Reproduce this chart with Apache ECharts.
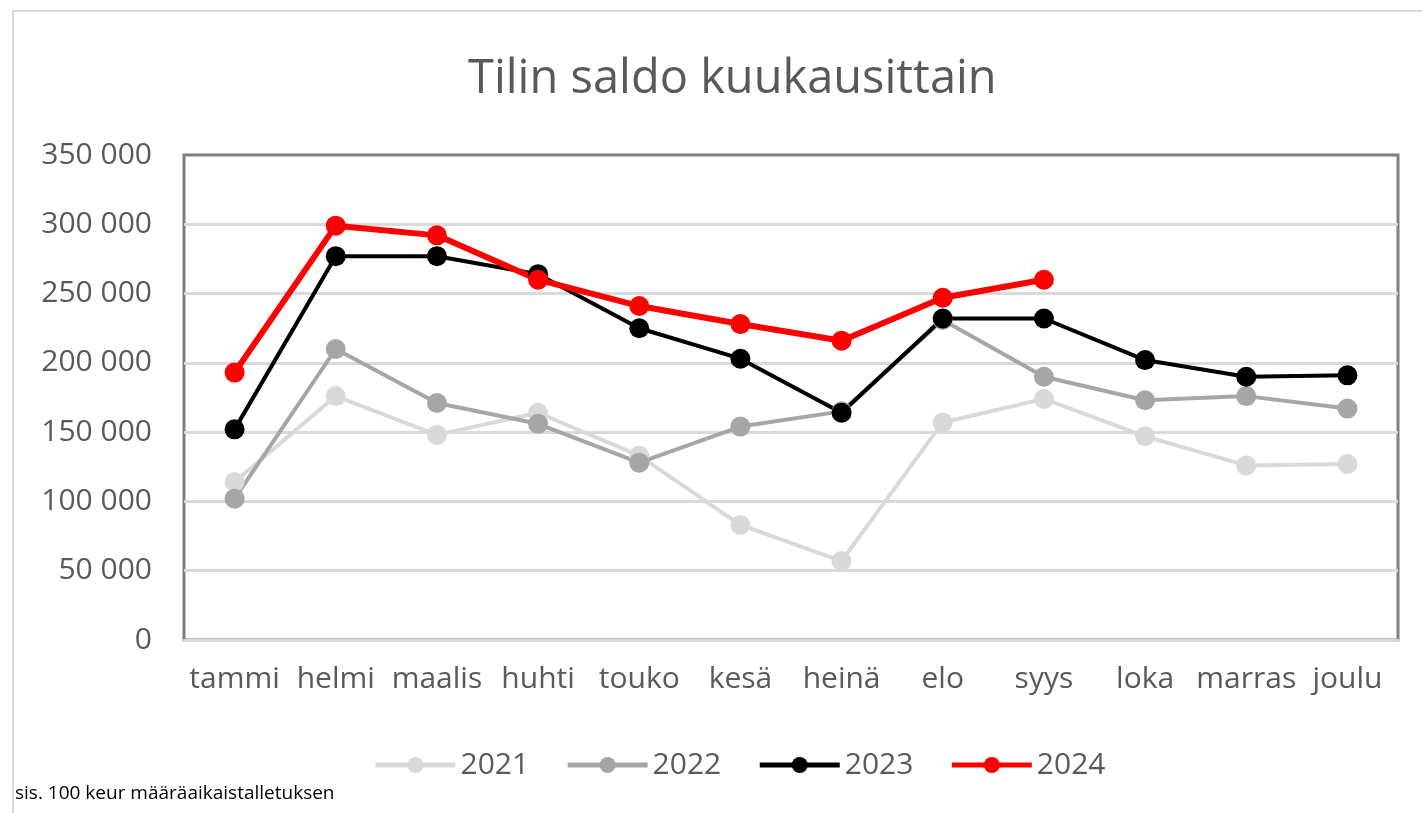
<!DOCTYPE html>
<html>
<head>
<meta charset="utf-8">
<script src="https://cdn.jsdelivr.net/npm/echarts@6/dist/echarts.min.js"></script>
<style>
  html, body { margin: 0; padding: 0; background: #fff; }
  #chart { width: 1422px; height: 813px; }
</style>
</head>
<body>
<div id="chart"></div>
<script>
// kuukaudet
var months = ['tammi', 'helmi', 'maalis', 'huhti', 'touko', 'kesä', 'heinä', 'elo', 'syys', 'loka', 'marras', 'joulu'];

// saldot vuosittain (luettu kuvasta)
var y2021 = [114000, 176000, 148000, 164000, 133000, 83000, 57000, 157000, 174000, 147000, 126000, 127000];
var y2022 = [102000, 210000, 171000, 156000, 128000, 154000, 165000, 231000, 190000, 173000, 176000, 167000];
var y2023 = [152000, 277000, 277000, 264000, 225000, 203000, 164000, 232000, 232000, 202000, 190000, 191000];
var y2024 = [193000, 299000, 292000, 260000, 241000, 228000, 216000, 247000, 260000];

var years = ['2021', '2022', '2023', '2024'];

var FONT = '"Open Sans", sans-serif';

function fmt(v) {
    return String(v).replace(/\B(?=(\d{3})+(?!\d))/g, ' ');
}

function lineSeries(name, data, color, width) {
    return {
        name: name,
        type: 'line',
        data: data,
        symbol: 'circle',
        symbolSize: 20,
        showSymbol: true,
        lineStyle: { color: color, width: width },
        itemStyle: { color: color },
        animation: false
    };
}

var chart = echarts.init(document.getElementById('chart'));
chart.setOption({
    animation: false,
    textStyle: { fontFamily: FONT },
    title: {
        text: 'Tilin saldo kuukausittain',
        left: 463,
        top: 51,
        textStyle: { fontFamily: FONT, fontSize: 47, fontWeight: 'normal', color: '#595959' }
    },
    graphic: [
        // ulompi kehys
        { type: 'polyline', shape: { points: [[13, 830], [13, 11], [1430, 11]] },
          style: { stroke: '#d9d9d9', lineWidth: 2, fill: null } },
        { type: 'text', left: 15, top: 784,
          style: { text: 'sis. 100 keur määräaikaistalletuksen', fontFamily: FONT, fontSize: 19, fill: '#000', letterSpacing: -0.2 } }
    ],
    legend: {
        bottom: 28,
        left: 368,
        itemWidth: 80,
        itemHeight: 20,
        itemGap: 36,
        lineStyle: { width: 5 },
        textStyle: { fontFamily: FONT, fontSize: 30, color: '#595959' },
        data: years
    },
    grid: {
        left: 184,
        right: 24,
        top: 155,
        bottom: 173,
        show: true,
        borderColor: '#7f7f7f',
        borderWidth: 3
    },
    xAxis: {
        type: 'category',
        data: months,
        boundaryGap: true,
        axisLine: { show: true, lineStyle: { color: '#d9d9d9', width: 3 } },
        axisTick: { show: false },
        axisLabel: { fontFamily: FONT, fontSize: 30, color: '#595959', margin: 24, interval: 0 }
    },
    yAxis: {
        type: 'value',
        min: 0,
        max: 350000,
        interval: 50000,
        axisLine: { show: false },
        axisTick: { show: false },
        splitLine: { showMaxLine: false, showMinLine: false, lineStyle: { color: '#d9d9d9', width: 3 } },
        axisLabel: { fontFamily: FONT, fontSize: 30, color: '#595959', margin: 32, formatter: fmt }
    },
    series: [
        lineSeries(years[0], y2021, '#d9d9d9', 4),
        lineSeries(years[1], y2022, '#a6a6a6', 4),
        lineSeries(years[2], y2023, '#000000', 4),
        lineSeries(years[3], y2024, '#ff0000', 6)
    ]
});
</script>
</body>
</html>
